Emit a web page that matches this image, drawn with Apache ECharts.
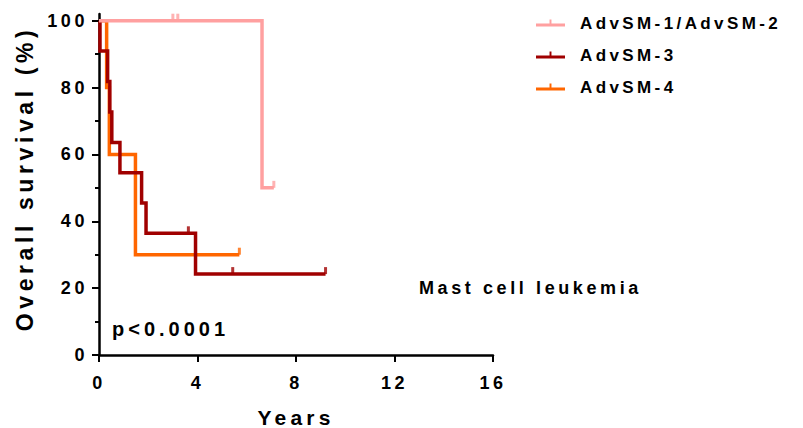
<!DOCTYPE html>
<html>
<head>
<meta charset="utf-8">
<script src="https://cdn.jsdelivr.net/npm/echarts@6/dist/echarts.min.js"></script>
<style>
  html, body { margin: 0; padding: 0; background: #fff; }
  #chart { width: 803px; height: 428px; }
  #chart svg text { letter-spacing: 0.2em; }
</style>
</head>
<body>
<div id="chart"></div>
<script>
// ---- data ----
const seriesNames = ['AdvSM-1/AdvSM-2', 'AdvSM-3', 'AdvSM-4'];

// AdvSM-1/AdvSM-2
const advsm12Times = [0, 6.62, 7.1];
const advsm12Surv = [100, 50, 50];
const advsm12CensorTimes = [3.0, 3.2, 7.1];
const advsm12CensorSurv = [100, 100, 50];

// AdvSM-3
const advsm3Times = [0, 0.04, 0.35, 0.44, 0.52, 0.85, 1.73, 1.91, 3.92, 9.2];
const advsm3Surv = [100, 90.9, 81.8, 72.7, 63.6, 54.5, 45.5, 36.4, 24.2, 24.2];
const advsm3CensorTimes = [3.63, 5.43, 9.2];
const advsm3CensorSurv = [36.4, 24.2, 24.2];

// AdvSM-4
const advsm4Times = [0, 0.31, 0.42, 1.48, 5.7];
const advsm4Surv = [100, 80, 60, 30, 30];
const advsm4CensorTimes = [5.7];
const advsm4CensorSurv = [30];

const xTicks = [0, 4, 8, 12, 16];
const yTicks = [0, 20, 40, 60, 80, 100];
const yMinorTicks = [10, 30, 50, 70, 90];

const pText = 'p<0.0001';
const subsetText = 'Mast cell leukemia';

const colors = { 'AdvSM-1/AdvSM-2': '#ffa0a0', 'AdvSM-3': '#a00000', 'AdvSM-4': '#ff6600' };

// ---- build ----
const zip = (a, b) => a.map((v, i) => [v, b[i]]);
const FONT = "'Liberation Sans', Arial, sans-serif";

function lineSeries(name, t, s) {
  return {
    name, type: 'line', step: 'end', data: zip(t, s),
    showSymbol: false, symbol: 'none',
    lineStyle: { width: 3.5, color: colors[name], cap: 'butt', join: 'miter' },
    itemStyle: { color: colors[name] },
    silent: true, animation: false
  };
}
function censorSeries(name, t, s) {
  return {
    name, type: 'scatter', data: zip(t, s),
    symbol: 'rect', symbolSize: [3, 7], symbolOffset: [0, -3.5],
    itemStyle: { color: colors[name] },
    silent: true, animation: false
  };
}

const legendIcon = 'path://M0,4 L30,4 L30,7 L0,7 Z M14,0 L16,0 L16,4 L14,4 Z';

const chart = echarts.init(document.getElementById('chart'), null, { renderer: 'svg' });
chart.setOption({
  backgroundColor: '#fff',
  animation: false,
  textStyle: { fontFamily: FONT, fontWeight: 'bold', color: '#000' },
  grid: { left: 99, right: 310, top: 14, bottom: 73, containLabel: false, outerBoundsMode: 'none' },
  legend: {
    orient: 'vertical', left: 536, top: 11, padding: 0,
    itemWidth: 29, itemHeight: 7, itemGap: 8,
    selectedMode: false,
    data: seriesNames.map(n => ({ name: n, icon: legendIcon })),
    textStyle: { fontFamily: FONT, fontWeight: 'bold', fontSize: 17, color: '#000', lineHeight: 24, padding: [0, 0, 0, 10] }
  },
  xAxis: {
    type: 'value', min: 0, max: 16, interval: 4,
    name: 'Years', nameLocation: 'middle', nameGap: 52,
    nameTextStyle: { fontFamily: FONT, fontWeight: 'bold', fontSize: 21, color: '#000' },
    axisLine: { show: true, onZero: false, lineStyle: { color: '#000', width: 2.5 } },
    axisTick: { show: true, length: 7, lineStyle: { color: '#000', width: 2 }, customValues: xTicks },
    axisLabel: { fontFamily: FONT, fontWeight: 'bold', fontSize: 18, color: '#000', margin: 19, customValues: xTicks },
    splitLine: { show: false }
  },
  yAxis: [{
    type: 'value', min: 0, max: 102,
    name: 'Overall survival (%)', nameLocation: 'middle', nameGap: 63, nameRotate: 90,
    nameTextStyle: { fontFamily: FONT, fontWeight: 'bold', fontSize: 23, color: '#000', padding: [0, 0, 0, 12] },
    axisLine: { show: true, lineStyle: { color: '#000', width: 2.5 } },
    axisTick: { show: true, length: 7, lineStyle: { color: '#000', width: 2 }, customValues: yTicks },
    axisLabel: { fontFamily: FONT, fontWeight: 'bold', fontSize: 18, color: '#000', margin: 11, customValues: yTicks },
    splitLine: { show: false }
  }, {
    type: 'value', min: 0, max: 102, position: 'left',
    axisLine: { show: false },
    axisTick: { show: true, length: 4, lineStyle: { color: '#000', width: 2 }, customValues: yMinorTicks },
    axisLabel: { show: false },
    splitLine: { show: false }
  }],
  graphic: [
    { type: 'text', left: 112, top: 319, style: { text: pText, font: 'bold 20px ' + FONT, fill: '#000' } },
    { type: 'text', left: 419, top: 279, style: { text: subsetText, font: 'bold 18px ' + FONT, fill: '#000' } }
  ],
  series: [
    lineSeries('AdvSM-4', advsm4Times, advsm4Surv),
    lineSeries('AdvSM-3', advsm3Times, advsm3Surv),
    lineSeries('AdvSM-1/AdvSM-2', advsm12Times, advsm12Surv),
    censorSeries('AdvSM-4', advsm4CensorTimes, advsm4CensorSurv),
    censorSeries('AdvSM-3', advsm3CensorTimes, advsm3CensorSurv),
    censorSeries('AdvSM-1/AdvSM-2', advsm12CensorTimes, advsm12CensorSurv)
  ]
});
</script>
</body>
</html>
